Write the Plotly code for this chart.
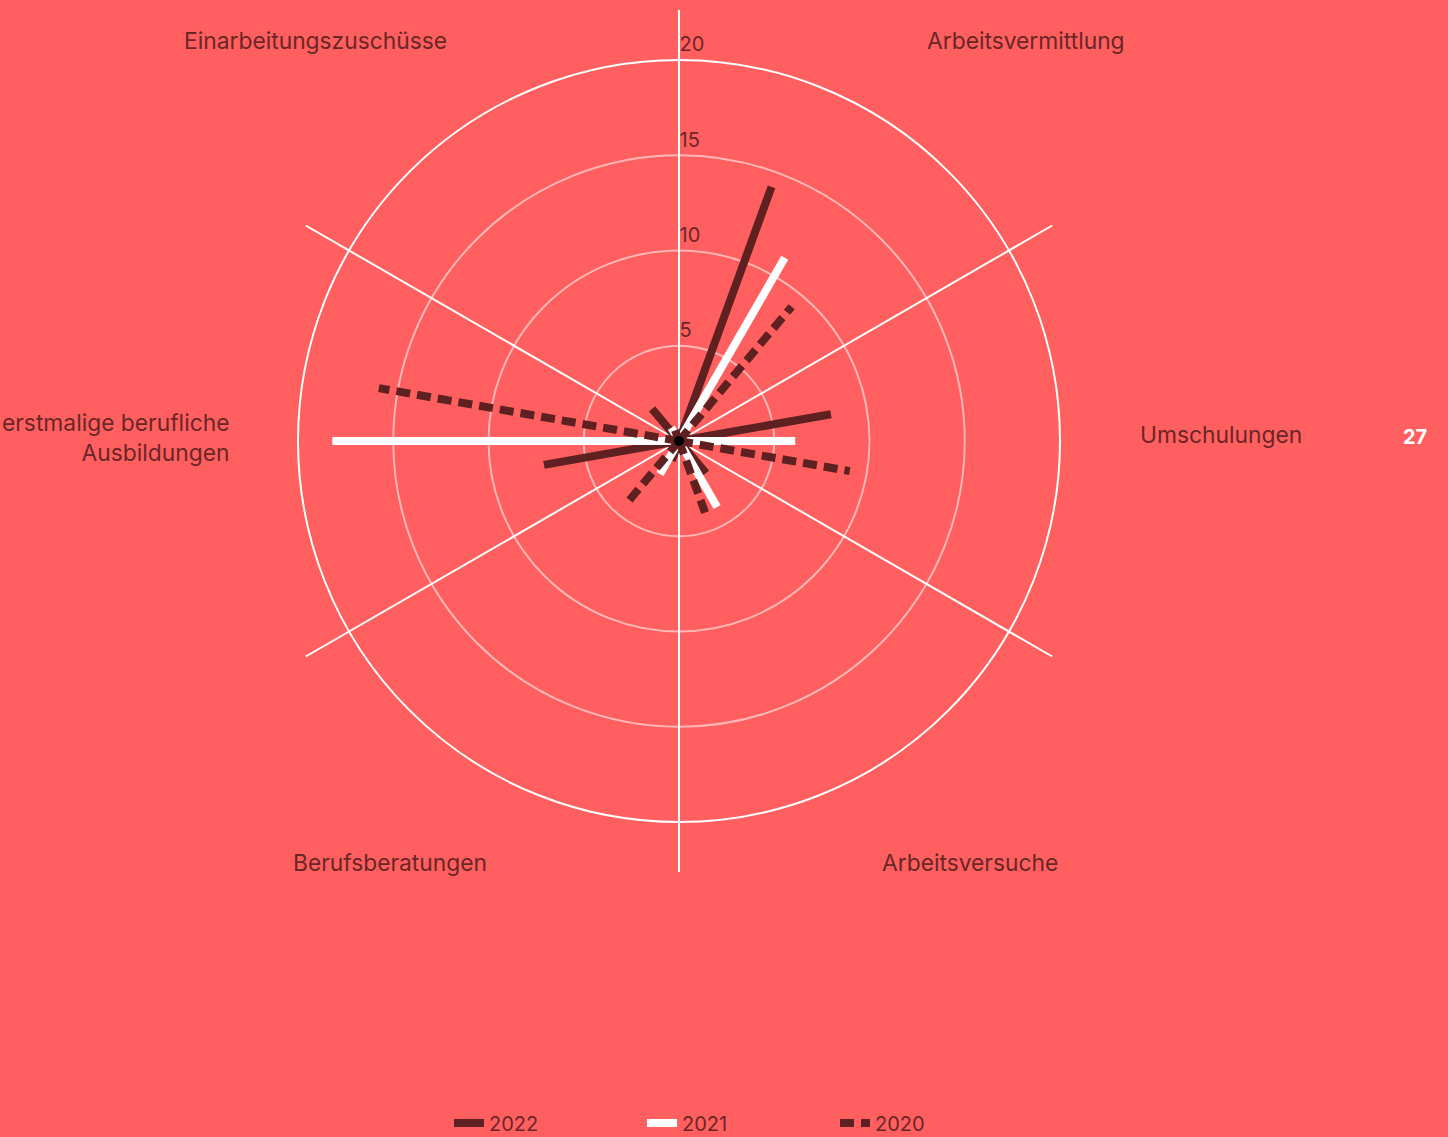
import plotly.graph_objects as go

categories = ["Arbeitsvermittlung", "Umschulungen", "Arbeitsversuche",
              "Berufsberatungen", "erstmalige berufliche<br>Ausbildungen",
              "Einarbeitungszuschüsse"]
years = ["2022", "2021", "2020"]
v2022 = [14.2, 8.1, 2.2, 1.1, 7.2, 2.2]
v2021 = [11.1, 6.1, 4.0, 2.0, 18.2, 0.8]
v2020 = [9.2, 9.1, 4.0, 4.1, 16.0, 0.6]
radial_ticks = [5, 10, 15, 20]

BG = "#FF5F5F"
DARK = "#5E2020"
TEXT = "#6A2626"
FONT = "Inter"

def segments(values, offset):
    r, th = [], []
    for i, v in enumerate(values):
        a = 60 - 60 * i + offset
        r += [0, v, None]
        th += [a, a, None]
    return r, th

fig = go.Figure()

# invisible trace so the background (spokes + tick labels) subplot gets drawn
fig.add_trace(go.Scatterpolar(r=[0], theta=[0], mode="markers", subplot="polar",
                              showlegend=False, hoverinfo="skip",
                              marker=dict(opacity=0)))

series = [(years[0], v2022, 10, DARK, "solid"),
          (years[1], v2021, 0, "white", "solid"),
          (years[2], v2020, -10, DARK, "14px,7px")]
for name, vals, off, col, dash in series:
    r, th = segments(vals, off)
    fig.add_trace(go.Scatterpolar(r=r, theta=th, mode="lines", name=name,
                                  subplot="polar2", connectgaps=False,
                                  line=dict(color=col, width=8, dash=dash)))
fig.add_trace(go.Scatterpolar(r=[0], theta=[0], mode="markers", showlegend=False,
                              subplot="polar2",
                              marker=dict(color="black", size=10)))

W, H = 1448, 1137
cx, cy = 679, 441
r_out, r20 = 431, 381

def dom(rad):
    return dict(x=[(cx - rad) / W, (cx + rad) / W],
                y=[(H - cy - rad) / H, (H - cy + rad) / H])

spokes = [30, 90, 150, 210, 270, 330]
lift = 0.8  # tick labels sit just above their ring
fig.update_layout(
    width=W, height=H,
    paper_bgcolor=BG, plot_bgcolor=BG,
    margin=dict(l=0, r=0, t=0, b=0, autoexpand=False),
    font=dict(family=FONT, color=TEXT, size=20),
    polar=dict(
        domain=dom(r_out), bgcolor="rgba(0,0,0,0)",
        radialaxis=dict(range=[0, 20 * r_out / r20],
                        tickvals=[t + lift for t in radial_ticks],
                        ticktext=[str(t) for t in radial_ticks],
                        showgrid=False, showline=False, ticks="",
                        angle=90, tickangle=90, side="clockwise",
                        tickfont=dict(size=20, color=TEXT)),
        angularaxis=dict(tickmode="array", tickvals=spokes, showticklabels=False,
                         ticks="", showline=False, gridcolor="white", gridwidth=1.5,
                         rotation=0, direction="counterclockwise"),
    ),
    polar2=dict(
        domain=dom(r20), bgcolor="rgba(0,0,0,0)",
        radialaxis=dict(range=[0, 20], tickvals=radial_ticks[:-1],
                        showticklabels=False, showline=False, ticks="",
                        gridcolor="rgba(255,255,255,0.55)", gridwidth=1.5),
        angularaxis=dict(showgrid=False, showticklabels=False, ticks="",
                         showline=True, linecolor="white", linewidth=2,
                         rotation=0, direction="counterclockwise"),
    ),
    legend=dict(orientation="h", x=449 / W, xanchor="left", y=1 - 1123 / H,
                yanchor="middle", entrywidth=148,
                font=dict(size=20, color=TEXT), bgcolor="rgba(0,0,0,0)"),
)

label_pos = [(1026, 40, "center"), (1221, 435, "center"), (970, 862, "center"),
             (390, 862, "center"), (231, 437, "right"), (315, 40, "center")]
for text, (x, y, al) in zip(categories, label_pos):
    fig.add_annotation(text=text, x=x / W, y=1 - y / H, xref="paper", yref="paper",
                       showarrow=False, align=al,
                       xanchor="right" if al == "right" else "center", yanchor="middle",
                       font=dict(size=22.8, color=TEXT))
fig.add_annotation(text="<b>27</b>", x=1415 / W, y=1 - 437 / H, xref="paper",
                   yref="paper", showarrow=False, xanchor="center", yanchor="middle",
                   font=dict(size=20, color="white"))

fig.write_html("out.html", config={"displayModeBar": False},
               post_script="document.body.style.margin='0';")
